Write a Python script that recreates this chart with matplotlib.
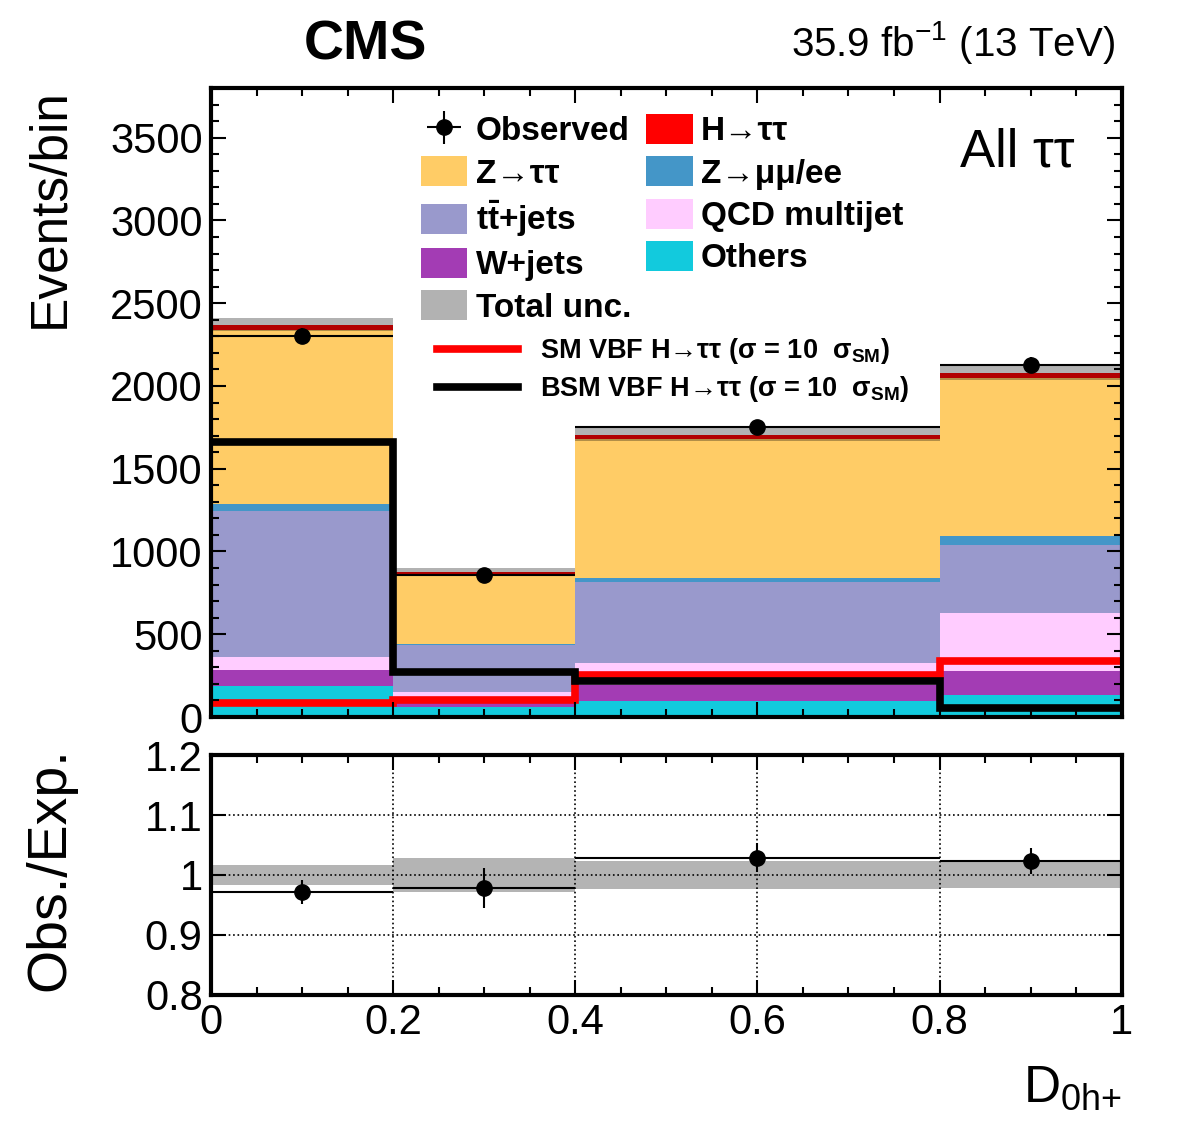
import numpy as np
import matplotlib
matplotlib.use("Agg")
from matplotlib import pyplot as plt
from matplotlib.ticker import MultipleLocator
from matplotlib.lines import Line2D

plt.rcParams['font.family'] = ['Liberation Sans', 'DejaVu Sans']
plt.rcParams['mathtext.fontset'] = 'custom'
plt.rcParams['mathtext.rm'] = 'Liberation Sans'
plt.rcParams['mathtext.it'] = 'Liberation Sans:italic'
plt.rcParams['mathtext.bf'] = 'Liberation Sans:bold'

# bin edges of D_0h+
edges = [0.0, 0.2, 0.4, 0.8, 1.0]

# stacked backgrounds, bottom to top
others = [190, 60, 96, 133]
wjets = [95, 45, 100, 144]
qcd = [80, 45, 130, 350]
ttbar = [880, 285, 490, 410]
zll = [40, 8, 24, 54]
ztt = [1055, 417, 842, 959]
htt = [30, 15, 24, 30]
total_unc = [38, 25, 39, 46]

observed = [2303, 856, 1755, 2128]

# signal hypotheses (x10 SM)
sm_vbf = [85, 100, 255, 340]
bsm_vbf = [1660, 270, 215, 55]

procs = [
    (others, '#12cadd', 'Others'),
    (wjets, '#a33cb4', 'W+jets'),
    (qcd, '#ffccff', 'QCD multijet'),
    (ttbar, '#9999cc', r't$\mathbf{\bar{t}}$+jets'),
    (zll, '#4496c8', 'Z\u2192μμ/ee'),
    (ztt, '#ffcc66', 'Z\u2192ττ'),
    (htt, '#ff0000', 'H\u2192ττ'),
]

edges = np.array(edges)
centers = 0.5 * (edges[1:] + edges[:-1])
halfw = 0.5 * (edges[1:] - edges[:-1])

fig = plt.figure(figsize=(11.82, 11.34), dpi=100)
ax = fig.add_axes([0.1785, 0.3677, 0.7705, 0.5547])
rax = fig.add_axes([0.1785, 0.1226, 0.7705, 0.2116])

bottom = np.zeros(4)
handles = {}
for vals, col, lab in procs:
    top = bottom + np.array(vals)
    h = ax.stairs(top, edges, baseline=bottom, fill=True, color=col, label=lab)
    handles[lab] = h
    bottom = top
total = bottom

unc = np.array(total_unc)
h_unc = ax.stairs(total + unc, edges, baseline=total - unc, fill=True,
                  color='black', alpha=0.3, lw=0, label='Total unc.')

ax.stairs(sm_vbf, edges, baseline=None, color='#ff0000', lw=5.5)
ax.stairs(bsm_vbf, edges, baseline=None, color='black', lw=5.5)

obs = np.array(observed)
h_obs = ax.errorbar(centers, obs, xerr=halfw, yerr=np.sqrt(obs), fmt='o',
                    color='black', ms=11, lw=1.5, capsize=0)

ax.set_xlim(0, 1)
ax.set_ylim(0, 3800)
ax.yaxis.set_major_locator(MultipleLocator(500))
ax.yaxis.set_minor_locator(MultipleLocator(100))
ax.xaxis.set_major_locator(MultipleLocator(0.2))
ax.xaxis.set_minor_locator(MultipleLocator(0.05))
ax.set_xticklabels([])

# ratio panel
ratio = obs / total
rerr = np.sqrt(obs) / total
rband = unc / total
rax.stairs(1 + rband, edges, baseline=1 - rband, fill=True, color='#b4b4b4', lw=0)
rax.errorbar(centers, ratio, xerr=halfw, yerr=rerr, fmt='o', color='black',
             ms=11, lw=1.5, capsize=0)
rax.set_xlim(0, 1)
rax.set_ylim(0.8, 1.2)
rax.xaxis.set_minor_locator(MultipleLocator(0.05))
rax.grid(True, which='major', ls=':', color='black', lw=1.2)
rax.set_yticks([0.8, 0.9, 1.0, 1.1, 1.2])
rax.set_yticklabels(['0.8', '0.9', '1', '1.1', '1.2'])
rax.set_xticks([0, 0.2, 0.4, 0.6, 0.8, 1.0])
rax.set_xticklabels(['0', '0.2', '0.4', '0.6', '0.8', '1'])

for a in (ax, rax):
    for s in a.spines.values():
        s.set_linewidth(3)
    a.tick_params(which='both', direction='in', top=True, right=True,
                  labelsize=30, width=1.5, pad=6)
    a.tick_params(which='major', length=11)
    a.tick_params(which='minor', length=5.5)

tt_lab = r't$\mathbf{\bar{t}}$+jets'
leg1 = ax.legend([h_obs, handles['Z\u2192ττ'], handles[tt_lab],
                  handles['W+jets'], h_unc,
                  handles['H\u2192ττ'], handles['Z\u2192μμ/ee'],
                  handles['QCD multijet'], handles['Others']],
                 ['Observed', 'Z\u2192ττ', tt_lab, 'W+jets',
                  'Total unc.', 'H\u2192ττ', 'Z\u2192μμ/ee',
                  'QCD multijet', 'Others'],
                 ncol=2, loc='upper left', bbox_to_anchor=(0.212, 0.985),
                 frameon=False, prop={'weight': 'bold', 'size': 24},
                 handlelength=1.4, handleheight=1.0, handletextpad=0.25,
                 labelspacing=0.27, columnspacing=0.45, borderpad=0)
ax.add_artist(leg1)

l_sm = Line2D([], [], color='#ff0000', lw=5.5)
l_bsm = Line2D([], [], color='black', lw=5.5)
ax.legend([l_sm, l_bsm],
          ['SM VBF H\u2192ττ (σ = 10  σ$_{\\mathbf{SM}}$)',
           'BSM VBF H\u2192ττ (σ = 10  σ$_{\\mathbf{SM}}$)'],
          loc='upper left', bbox_to_anchor=(0.2335, 0.627),
          frameon=False, prop={'weight': 'bold', 'size': 19.5},
          handlelength=3.0, handletextpad=0.8, labelspacing=0.3, borderpad=0)

ax.text(0.948, 0.898, 'All ττ', transform=ax.transAxes, ha='right', va='center',
        fontsize=38)

fig.text(365 / 1182, 1 - 45 / 1134, 'CMS', ha='center', va='center',
         fontsize=40, weight='bold')
fig.text(1115 / 1182, 1 - 42 / 1134, r'35.9 fb$^{-1}$ (13 TeV)', ha='right',
         va='center', fontsize=29)
fig.text(50 / 1182, 1 - 88 / 1134, 'Events/bin', rotation=90, ha='center',
         va='top', fontsize=37)
fig.text(50 / 1182, 1 - 869 / 1134, 'Obs./Exp.', rotation=90, ha='center',
         va='center', fontsize=40)
fig.text(1122 / 1182, 1 - 1088 / 1134, r'D$_{\mathrm{0h{+}}}$', ha='right',
         va='center', fontsize=37)

fig.savefig('out.png', dpi=100)
